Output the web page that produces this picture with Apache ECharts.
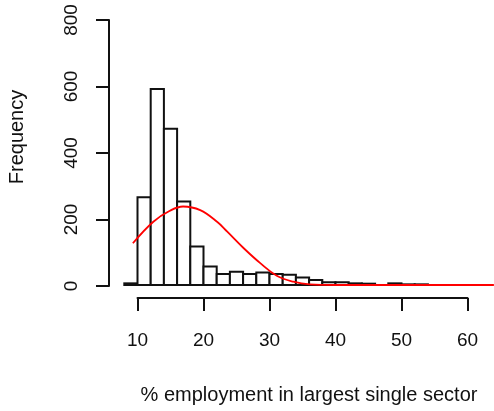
<!DOCTYPE html>
<html>
<head>
<meta charset="utf-8">
<script src="https://cdn.jsdelivr.net/npm/echarts@6/dist/echarts.min.js"></script>
<style>
  html, body { margin: 0; padding: 0; background: #fff; }
  #main { width: 494px; height: 411px; }
</style>
</head>
<body>
<div id="main"></div>
<script>
// histogram bins (width 2) and their counts
var binStart = [8, 10, 12, 14, 16, 18, 20, 22, 24, 26, 28, 30, 32, 34, 36, 38, 40, 42, 44, 46, 48, 50, 52];
var binWidth = 2;
var counts = [5, 265, 592, 472, 252, 116, 56, 33, 40, 33, 38, 33, 31, 23, 15, 8, 8, 5, 4, 0, 5, 2, 2];

// red fitted curve
var curveX = [9.3, 12.4, 14.9, 16.9, 19.5, 22.1, 23.6, 26.1, 28.6, 31.1, 33.6, 36.1, 40, 50, 64];
var curveY = [126, 191, 224, 237, 226, 190, 161, 111, 66, 28, 10, 2, 0, 0, 0];

// axis ticks
var xTicks = [10, 20, 30, 40, 50, 60];
var yTicks = [0, 200, 400, 600, 800];

var chart = echarts.init(document.getElementById('main'), null, { renderer: 'canvas' });

var font = '"Liberation Sans", Arial, sans-serif';
var ink = '#111';

var histData = binStart.map(function (s, i) { return [s, s + binWidth, counts[i]]; });
var curveData = curveX.map(function (x, i) { return [x, curveY[i]]; });

var option = {
    animation: false,
    backgroundColor: '#fff',
    textStyle: { fontFamily: font },
    grid: [
        // plotting region
        { left: 124.3, top: 20, width: 369.6, height: 265 },
        // detached x axis (R style)
        { left: 137.5, top: 290, width: 330, height: 8 },
        // detached y axis
        { left: 109, top: 20, width: 5, height: 266 }
    ],
    xAxis: [
        { gridIndex: 0, type: 'value', min: 8, max: 64, show: false },
        {
            gridIndex: 1, type: 'value',
            min: xTicks[0], max: xTicks[xTicks.length - 1], interval: 10,
            axisLine: { show: true, onZero: false, lineStyle: { color: ink, width: 2 } },
            axisTick: { show: true, length: 13, lineStyle: { color: ink, width: 2 } },
            axisLabel: { color: ink, fontSize: 19, fontFamily: font, margin: 33, showMinLabel: true, showMaxLabel: true },
            splitLine: { show: false }
        },
        { gridIndex: 2, type: 'value', show: false }
    ],
    yAxis: [
        { gridIndex: 0, type: 'value', min: 0, max: 800, show: false },
        { gridIndex: 1, type: 'value', show: false },
        {
            gridIndex: 2, type: 'value',
            min: yTicks[0], max: yTicks[yTicks.length - 1], interval: 200,
            axisLine: { show: true, onZero: false, lineStyle: { color: ink, width: 2 } },
            axisTick: { show: true, length: 13, lineStyle: { color: ink, width: 2 } },
            axisLabel: { color: ink, fontSize: 19, fontFamily: font, rotate: 90, margin: 28 },
            splitLine: { show: false }
        }
    ],
    series: [
        {
            type: 'custom',
            xAxisIndex: 0,
            yAxisIndex: 0,
            data: histData,
            encode: { x: [0, 1], y: 2 },
            renderItem: function (params, api) {
                var h = api.value(2);
                if (!h) return;
                var p0 = api.coord([api.value(0), 0]);
                var p1 = api.coord([api.value(1), h]);
                return {
                    type: 'rect',
                    shape: { x: p0[0], y: p1[1], width: p1[0] - p0[0], height: p0[1] - p1[1] },
                    style: { fill: '#fff', stroke: ink, lineWidth: 2 }
                };
            },
            z: 2
        },
        {
            type: 'line',
            xAxisIndex: 0,
            yAxisIndex: 0,
            data: curveData,
            smooth: 0.4,
            showSymbol: false,
            lineStyle: { color: '#ff0000', width: 1.8 },
            z: 3
        }
    ],
    graphic: [
        {
            type: 'text', x: 309, y: 395,
            style: { text: '% employment in largest single sector', fill: ink, font: '20px ' + font, textAlign: 'center', textVerticalAlign: 'middle' }
        },
        {
            type: 'text', x: 17, y: 137, rotation: Math.PI / 2,
            style: { text: 'Frequency', fill: ink, font: '20px ' + font, textAlign: 'center', textVerticalAlign: 'middle' }
        }
    ]
};

chart.setOption(option);
</script>
</body>
</html>
